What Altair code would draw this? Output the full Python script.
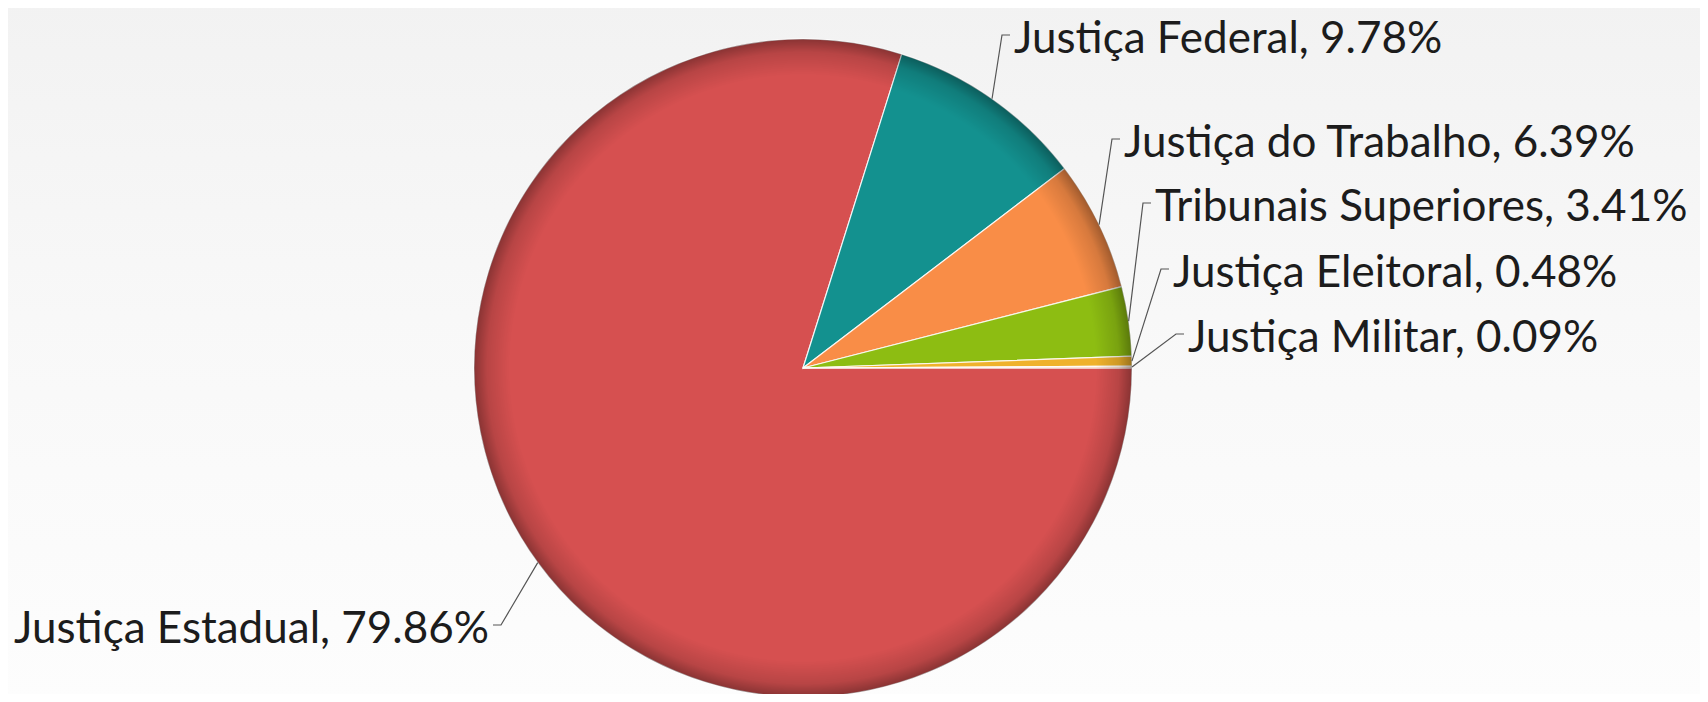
import math
import altair as alt
import pandas as pd

# ---- data ----
categories = ["Justiça Estadual", "Justiça Federal", "Justiça do Trabalho",
              "Tribunais Superiores", "Justiça Eleitoral", "Justiça Militar"]
shares = [79.86, 9.78, 6.39, 3.41, 0.48, 0.09]
colors = ["#D65050", "#13918F", "#F98D47", "#8DBD12", "#EFB22C", "#F6CBA8"]

# ---- layout (page pixels) ----
W, H = 1692, 686
OFF = 8
CX, CY, R = 803 - OFF, 368 - OFF, 329
label_x = [489, 1014, 1124, 1155, 1173, 1188]
label_base = [643, 53, 157, 221, 287, 352]
label_side = ["left", "right", "right", "right", "right", "right"]
FONT = "Lato"
FSIZE = 44

total = sum(shares)
pie_rows, text_rows, line_rows = [], [], []
cum = 0.0
for i, (c, s) in enumerate(zip(categories, shares)):
    pie_rows.append({"cat": c, "share": s, "idx": i})
    mid = math.pi / 2 + 2 * math.pi * (cum + s / 2) / total
    cum += s
    ax, ay = CX + R * math.sin(mid), CY - R * math.cos(mid)
    tx, ty = label_x[i] - OFF, label_base[i] - OFF
    sgn = 1 if label_side[i] == "right" else -1
    lab = f"{c}, {s:.2f}%"
    text_rows.append({"label": lab, "tx": tx, "ty": ty, "side": label_side[i]})
    pts = [(ax, ay), (tx - sgn * 12, ty - 18), (tx - sgn * 4, ty - 18)]
    for k, (px, py) in enumerate(pts):
        line_rows.append({"label": lab, "px": px, "py": py, "seq": k})

pie_df = pd.DataFrame(pie_rows)
text_df = pd.DataFrame(text_rows)
line_df = pd.DataFrame(line_rows)

xs = alt.Scale(domain=[0, W], range=[0, W])
ys = alt.Scale(domain=[0, H], range=[0, H])

bg = alt.Chart(pd.DataFrame({"a": [0]})).mark_rect(
    fill={"gradient": "linear", "x1": 0, "y1": 0, "x2": 0, "y2": 1,
          "stops": [{"offset": 0, "color": "#f2f2f2"},
                    {"offset": 0.45, "color": "#f8f8f8"},
                    {"offset": 1, "color": "#fdfdfd"}]}
).encode(x=alt.value(-OFF), x2=alt.value(W + OFF), y=alt.value(-OFF), y2=alt.value(H + OFF))

pie = alt.Chart(pie_df).mark_arc(outerRadius=R, stroke="#ffffff", strokeWidth=1.2,
                                 strokeOpacity=0.85).encode(
    theta=alt.Theta("share:Q", stack=True,
                    scale=alt.Scale(range=[math.pi / 2, math.pi / 2 + 2 * math.pi])),
    color=alt.Color("cat:N", scale=alt.Scale(domain=categories, range=colors), legend=None),
    order=alt.Order("idx:Q"),
    x=alt.value(CX), y=alt.value(CY),
)

shade = alt.Chart(pd.DataFrame({"a": [0]})).mark_arc(
    outerRadius=R, theta=0, theta2=2 * math.pi,
    fill={"gradient": "radial", "x1": 0.5, "y1": 0.5, "r1": 0,
          "x2": 0.5, "y2": 0.5, "r2": 0.5,
          "stops": [{"offset": 0, "color": "rgba(0,0,0,0)"},
                    {"offset": 0.89, "color": "rgba(0,0,0,0)"},
                    {"offset": 0.96, "color": "rgba(0,0,0,0.14)"},
                    {"offset": 1, "color": "rgba(0,0,0,0.36)"}]}
).encode(x=alt.value(CX), y=alt.value(CY))

lines = alt.Chart(line_df).mark_line(color="#555555", strokeWidth=1.2).encode(
    x=alt.X("px:Q", scale=xs, axis=None),
    y=alt.Y("py:Q", scale=ys, axis=None),
    detail="label:N",
    order="seq:Q",
)

text_r = alt.Chart(text_df).transform_filter("datum.side == 'right'").mark_text(
    align="left", baseline="alphabetic", font=FONT, fontSize=FSIZE, color="#1c1c1c"
).encode(x=alt.X("tx:Q", scale=xs, axis=None), y=alt.Y("ty:Q", scale=ys, axis=None), text="label:N")

text_l = alt.Chart(text_df).transform_filter("datum.side == 'left'").mark_text(
    align="right", baseline="alphabetic", font=FONT, fontSize=FSIZE, color="#1c1c1c"
).encode(x=alt.X("tx:Q", scale=xs, axis=None), y=alt.Y("ty:Q", scale=ys, axis=None), text="label:N")

chart = alt.layer(bg, pie, shade, lines, text_r, text_l).properties(
    width=W, height=H, autosize=alt.AutoSizeParams(type="none"), padding=0,
    background="#f6f6f6"
).configure_view(stroke=None)

chart.save("out.html", embed_options={"renderer": "svg", "actions": False})
